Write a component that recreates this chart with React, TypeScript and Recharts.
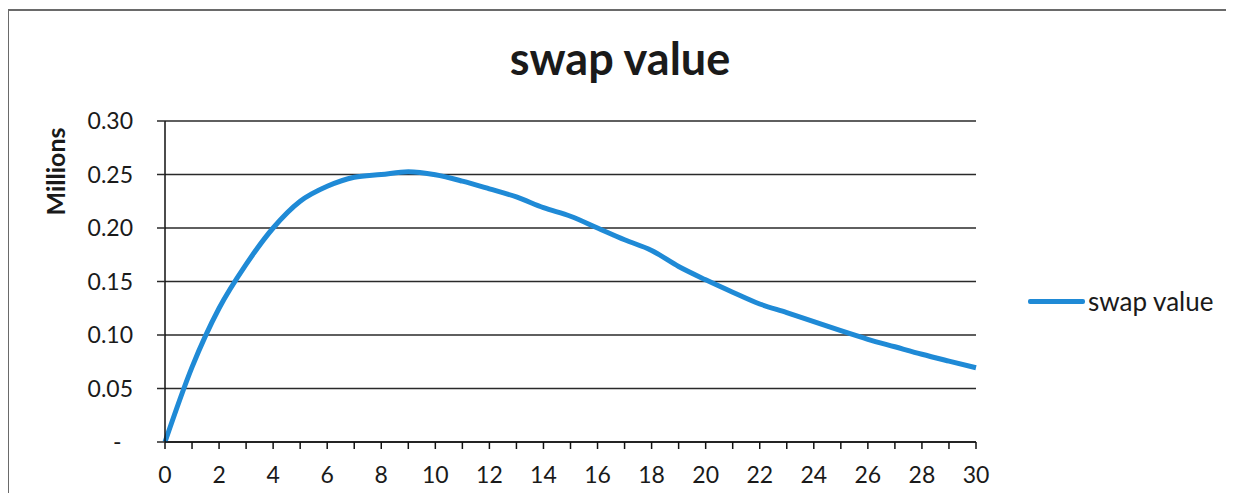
import React from 'react';
import { LineChart, Line, XAxis, YAxis, CartesianGrid, Legend } from 'recharts';

const years = [0, 1, 2, 3, 4, 5, 6, 7, 8, 9, 10, 11, 12, 13, 14, 15, 16, 17, 18, 19, 20, 21, 22, 23, 24, 25, 26, 27, 28, 29, 30];
const swapValues = [0, 0.07, 0.125, 0.166, 0.2, 0.225, 0.239, 0.2475, 0.25, 0.2525, 0.2497, 0.2438, 0.2366, 0.229, 0.219, 0.211, 0.2, 0.189, 0.179, 0.164, 0.1516, 0.14, 0.129, 0.121, 0.1125, 0.104, 0.096, 0.089, 0.082, 0.0756, 0.0694];
const yTicks = [0, 0.05, 0.1, 0.15, 0.2, 0.25, 0.3];
const xTicks = years;
const seriesName = 'swap value';
const chartTitle = 'swap value';
const yLabel = 'Millions';

const data = years.map((y, i) => ({ year: y, value: swapValues[i] }));

const FONT = 'Lato, "Open Sans", sans-serif';
const LINE_COLOR = '#1f8ad6';

const LegendContent = () => (
  <div style={{ display: 'flex', alignItems: 'center', fontFamily: FONT, fontSize: 26, color: '#1a1a1a', lineHeight: '30px', whiteSpace: 'nowrap' }}>
    <div style={{ width: 57, height: 5, background: LINE_COLOR, borderRadius: 2, marginRight: 3 }} />
    <span>{seriesName}</span>
  </div>
);

const YLabelContent = () => (
  <text
    x={57}
    y={163.5}
    transform="rotate(-90, 57, 163.5)"
    textAnchor="middle"
    fontFamily={FONT}
    fontWeight={700}
    fontSize={25}
    fill="#1a1a1a"
  >
    {yLabel}
  </text>
);

export default function App() {
  return (
    <div style={{ position: 'relative', width: 1218, height: 485 }}>
      <div
        style={{
          position: 'absolute',
          left: -1,
          top: 1,
          width: 1226,
          height: 484,
          boxSizing: 'border-box',
          borderLeft: '2px solid #6a6a6a',
          borderTop: '2px solid #6a6a6a',
        }}
      />
      <svg width={1218} height={100} style={{ position: 'absolute', left: 0, top: 0 }}>
        <text x={612} y={67} textAnchor="middle" fontFamily={FONT} fontWeight={700} fontSize={45} fill="#1a1a1a">
          {chartTitle}
        </text>
      </svg>
      <div style={{ position: 'absolute', left: 0, top: 0 }}>
        <LineChart width={1218} height={485} data={data} margin={{ top: 113, right: 250, bottom: 21, left: 0 }}>
          <CartesianGrid vertical={false} stroke="#2a2a2a" strokeWidth={1.5} />
          <XAxis
            dataKey="year"
            type="number"
            domain={[0, 30]}
            ticks={xTicks}
            interval={0}
            tickFormatter={(v: number) => (v % 2 === 0 ? String(v) : '')}
            tickSize={7}
            tickMargin={18}
            axisLine={{ stroke: '#111', strokeWidth: 1.5 }}
            tickLine={{ stroke: '#111', strokeWidth: 1.5 }}
            tick={{ fill: '#1a1a1a', fontSize: 23, fontFamily: FONT }}
            height={30}
          />
          <YAxis
            type="number"
            domain={[0, 0.3]}
            ticks={yTicks}
            interval={0}
            tickFormatter={(v: number) => (v === 0 ? '-\u2002' : v.toFixed(2))}
            width={157}
            tickSize={8}
            tickMargin={24}
            axisLine={{ stroke: '#111', strokeWidth: 1.5 }}
            tickLine={{ stroke: '#2a2a2a', strokeWidth: 1.5 }}
            tick={{ fill: '#1a1a1a', fontSize: 23, fontFamily: FONT }}
            label={{ content: <YLabelContent /> }}
          />
          <Legend
            layout="horizontal"
            verticalAlign="middle"
            align="center"
            content={<LegendContent />}
            wrapperStyle={{ position: 'absolute', left: 1020, top: 278, width: 'auto', height: 30 }}
          />
          <Line
            type="monotone"
            dataKey="value"
            name={seriesName}
            stroke={LINE_COLOR}
            strokeWidth={5}
            dot={false}
            isAnimationActive={false}
          />
        </LineChart>
      </div>
    </div>
  );
}
